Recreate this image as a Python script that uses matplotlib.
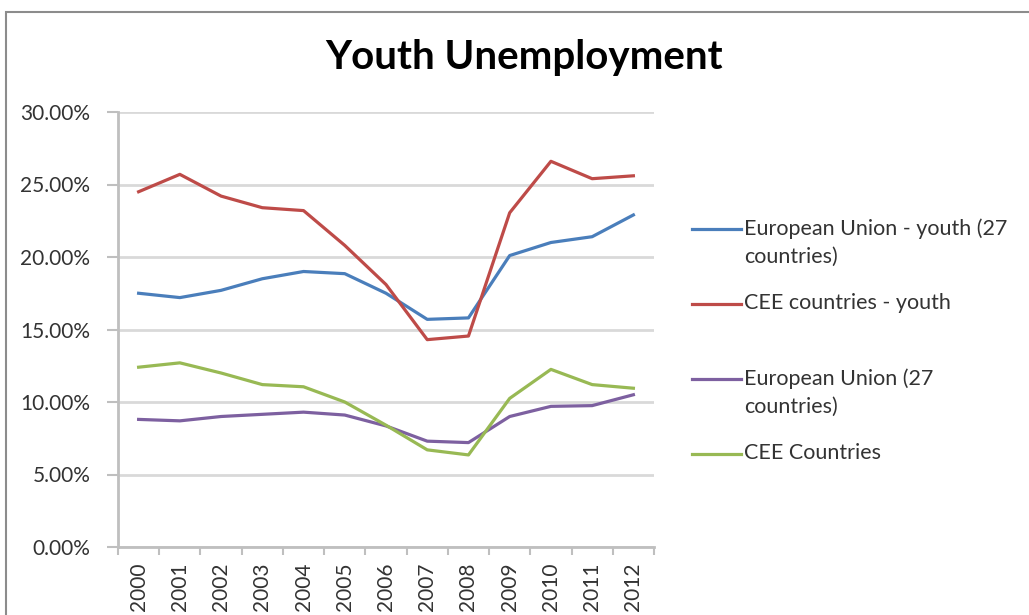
import numpy as np
import matplotlib
matplotlib.use("Agg")
import matplotlib.pyplot as plt
from matplotlib.lines import Line2D
from matplotlib.patches import Rectangle
from matplotlib.ticker import FuncFormatter

years = ["2000", "2001", "2002", "2003", "2004", "2005", "2006",
         "2007", "2008", "2009", "2010", "2011", "2012"]
eu_youth = [17.5, 17.2, 17.7, 18.5, 19.0, 18.85, 17.5, 15.7, 15.8, 20.1, 21.0, 21.4, 22.9]
cee_youth = [24.5, 25.7, 24.2, 23.4, 23.2, 20.8, 18.1, 14.3, 14.55, 23.05, 26.6, 25.4, 25.6]
eu_total = [8.8, 8.7, 9.0, 9.15, 9.3, 9.1, 8.35, 7.3, 7.2, 9.0, 9.7, 9.75, 10.5]
cee_total = [12.4, 12.7, 12.0, 11.2, 11.05, 10.0, 8.4, 6.7, 6.35, 10.25, 12.25, 11.2, 10.95]

series = [eu_youth, cee_youth, eu_total, cee_total]
labels = ["European Union - youth (27\ncountries)", "CEE countries - youth",
          "European Union (27\ncountries)", "CEE Countries"]
colors = ["#4a7ebb", "#be4b48", "#7d60a0", "#98b954"]

plt.rcParams['font.family'] = ['Lato', 'DejaVu Sans']

W, H = 1029, 615
fig = plt.figure(figsize=(W / 100, H / 100), dpi=100)

# outer chart frame (cut off on the right and bottom)
fig.add_artist(Rectangle((6 / W, -0.1), 1.2, 1.1 - 12 / H, transform=fig.transFigure,
                         fill=False, edgecolor='#8c8c8c', lw=1.5))

ax = fig.add_axes([118 / W, 68 / H, 536 / W, 435 / H])
x = np.arange(len(years))
for vals, c in zip(series, colors):
    ax.plot(x, vals, color=c, lw=2.3, solid_joinstyle='round')

ax.set_xlim(-0.5, len(years) - 0.5)
ax.set_ylim(0, 30)
ax.set_yticks(range(0, 31, 5))
ax.yaxis.set_major_formatter(FuncFormatter(lambda v, p: f"{v:.2f}%"))
ax.grid(axis='y', color='#d9d9d9', lw=2)
ax.set_axisbelow(True)

ax.set_xticks(x)
ax.set_xticklabels(years, rotation=90)
ax.set_xticks(np.arange(-0.5, len(years), 1), minor=True)
ax.tick_params(axis='x', which='major', length=0, pad=11, labelsize=15, labelcolor='#333333')
ax.tick_params(axis='x', which='minor', length=6, color='#bfbfbf', width=1.5)
ax.tick_params(axis='y', length=8, color='#bfbfbf', width=1.5, pad=12, labelsize=15,
               labelcolor='#333333')
for s in ['top', 'right']:
    ax.spines[s].set_visible(False)
for s in ['left', 'bottom']:
    ax.spines[s].set_color('#bfbfbf')
    ax.spines[s].set_linewidth(2)

fig.text(524 / W, 1 - 57 / H, "Youth Unemployment", ha='center', va='center',
         fontsize=29, fontweight='bold', color='black')

# legend, handle level with the first text line
leg_y = [229, 304, 379, 454]
for lab, c, yy in zip(labels, colors, leg_y):
    fig.add_artist(Line2D([692 / W, 741 / W], [1 - yy / H] * 2, color=c, lw=2.3))
    fig.text(744 / W, 1 - (yy - 11) / H, lab, ha='left', va='top', fontsize=15.5,
             color='#333333', linespacing=1.5)

fig.savefig("out.png", dpi=100)
